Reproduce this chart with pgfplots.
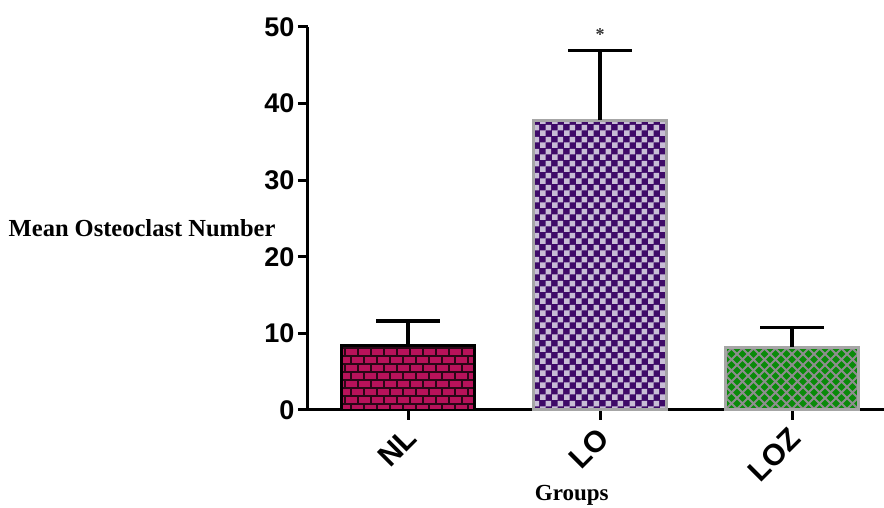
\documentclass[border=0pt]{standalone}
\usepackage{pgfplots}
\pgfplotsset{compat=1.18}
\usepackage{fontspec}
\setmainfont{Liberation Serif}
\newfontfamily\arialf{Liberation Sans}
\usetikzlibrary{patterns}
\definecolor{nlfill}{HTML}{B8125A}
\definecolor{nlmortar}{HTML}{2A0716}
\definecolor{lofill}{HTML}{3E0A68}
\definecolor{lolight}{HTML}{C8BDD6}
\definecolor{lozfill}{HTML}{0A8A0A}
\definecolor{lozline}{HTML}{8E8E8E}
\definecolor{bordergray}{HTML}{A6A6A6}
\pgfdeclarepatternformonly{mybricks}{\pgfqpoint{-1pt}{-1pt}}{\pgfqpoint{14pt}{17pt}}{\pgfqpoint{13pt}{16pt}}{%
  \pgfsetlinewidth{2pt}%
  \pgfpathmoveto{\pgfqpoint{0pt}{0pt}}\pgfpathlineto{\pgfqpoint{13pt}{0pt}}%
  \pgfpathmoveto{\pgfqpoint{0pt}{8pt}}\pgfpathlineto{\pgfqpoint{13pt}{8pt}}%
  \pgfpathmoveto{\pgfqpoint{0pt}{0pt}}\pgfpathlineto{\pgfqpoint{0pt}{8pt}}%
  \pgfpathmoveto{\pgfqpoint{6.5pt}{8pt}}\pgfpathlineto{\pgfqpoint{6.5pt}{16pt}}%
  \pgfusepath{stroke}}
\pgfdeclarepatternformonly{mychecker}{\pgfqpoint{0pt}{0pt}}{\pgfqpoint{12pt}{12pt}}{\pgfqpoint{12pt}{12pt}}{%
  \pgfpathrectangle{\pgfqpoint{0pt}{0pt}}{\pgfqpoint{6pt}{6pt}}%
  \pgfpathrectangle{\pgfqpoint{6pt}{6pt}}{\pgfqpoint{6pt}{6pt}}%
  \pgfusepath{fill}}
\pgfdeclarepatternformonly{mycross}{\pgfqpoint{-1pt}{-1pt}}{\pgfqpoint{12pt}{12pt}}{\pgfqpoint{11pt}{11pt}}{%
  \pgfsetlinewidth{1.8pt}%
  \pgfpathmoveto{\pgfqpoint{0pt}{0pt}}\pgfpathlineto{\pgfqpoint{11pt}{11pt}}%
  \pgfpathmoveto{\pgfqpoint{0pt}{11pt}}\pgfpathlineto{\pgfqpoint{11pt}{0pt}}%
  \pgfusepath{stroke}}
\begin{document}
\begin{tikzpicture}
\useasboundingbox (-308pt,-98pt) rectangle (576pt,410pt);
\begin{axis}[
  at={(0pt,0pt)}, anchor=south west,
  scale only axis,
  width=576pt, height=383pt,
  xmin=-0.521, xmax=2.479,
  ymin=0, ymax=50,
  axis x line=bottom, axis y line=left,
  axis line style={line width=3pt, -},
  xtick={0,1,2},
  xticklabels={NL,LO,LOZ},
  ytick={0,10,20,30,40,50},
  tick align=outside,
  major tick length=10pt,
  tick style={line width=3pt, black},
  /pgf/number format/assume math mode=true,
  ticklabel style={font=\arialf\bfseries\fontsize{27}{30}\selectfont},
  xticklabel style={rotate=45, anchor=north east, inner sep=1pt, xshift=-6pt, font=\arialf\bfseries\fontsize{30}{32}\selectfont},
  ylabel={Mean Osteoclast Number},
  ylabel style={rotate=-90, at={(axis description cs:-0.288,0.475)}, anchor=center, font=\bfseries\fontsize{24.5}{27}\selectfont},
  xlabel={Groups},
  xlabel style={at={(axis description cs:0.458,-0.222)}, anchor=center, font=\bfseries\fontsize{23}{25}\selectfont},
  ybar, bar width=133pt, bar shift=0pt,
  clip=false,
]
\addplot[draw=black, line width=2.5pt, fill=nlfill,
  postaction={pattern=mybricks, pattern color=nlmortar},
  error bars/.cd, y dir=plus, y explicit, error mark=|,
  error bar style={line width=3.5pt, black},
  error mark options={line width=3.5pt, mark size=32pt, black}]
  coordinates {(0,8.4) +- (0,3.2)};
\addplot[draw=bordergray, line width=3pt, fill=lofill,
  postaction={pattern=mychecker, pattern color=lolight},
  error bars/.cd, y dir=plus, y explicit, error mark=|,
  error bar style={line width=3.5pt, black},
  error mark options={line width=3.5pt, mark size=32pt, black}]
  coordinates {(1,37.8) +- (0,9.1)};
\addplot[draw=bordergray, line width=3pt, fill=lozfill,
  postaction={pattern=mycross, pattern color=lozline},
  error bars/.cd, y dir=plus, y explicit, error mark=|,
  error bar style={line width=3.5pt, black},
  error mark options={line width=3.5pt, mark size=32pt, black}]
  coordinates {(2,8.2) +- (0,2.6)};
\node[font=\bfseries\fontsize{18}{18}\selectfont, text=black!80] at (axis cs:1,49.0) {*};
\end{axis}
\end{tikzpicture}
\end{document}
